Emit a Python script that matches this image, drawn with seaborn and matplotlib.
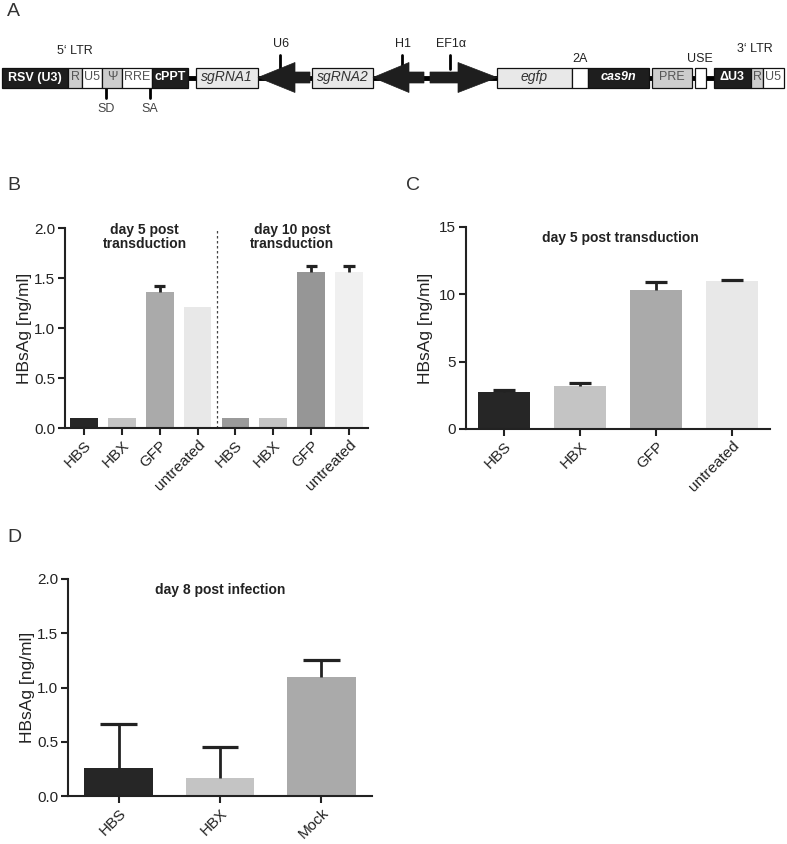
import matplotlib
matplotlib.use("Agg")
import matplotlib.pyplot as plt
from matplotlib.patches import Rectangle, Polygon
import numpy as np
import pandas as pd
import seaborn as sns

sns.set_theme(style="ticks")
plt.rcParams['font.family'] = ['Liberation Sans', 'DejaVu Sans']

W, H = 787, 844
INK = "#222222"

# ---- panel A: vector map (element name, start, end in px along the construct)
a_names = ["RSV (U3)", "R", "U5", "\u03a8", "RRE", "cPPT", "sgRNA1", "sgRNA2",
           "egfp", "", "cas9n", "PRE", "", "\u0394U3", "R", "U5"]
a_starts = [2, 68, 82, 102, 122, 152, 196, 312, 497, 572, 588, 652, 695, 714, 751, 763]
a_ends = [68, 82, 102, 122, 152, 188, 258, 373, 572, 588, 649, 692, 706, 751, 763, 784]
a_kinds = ["dark", "mid", "white", "mid", "white", "dark", "light", "light",
           "light", "white", "dark_it", "mid", "white", "dark", "mid", "white"]
# promoters: name, tail, head base, tip
a_promoters = [("U6", 310, 295, 258), ("H1", 424, 409, 373), ("EF1\u03b1", 430, 458, 497)]
a_promoter_ticks = [280, 402, 450]
a_labels_top = [("5\u2018 LTR", 75, 51), ("2A", 580, 59), ("USE", 700, 59), ("3\u2018 LTR", 755, 49)]
a_labels_bottom = [("SD", 106), ("SA", 150)]

# ---- panel B
b_labels = ["HBS", "HBX", "GFP", "untreated", "HBS", "HBX", "GFP", "untreated"]
b_values = [0.10, 0.10, 1.36, 1.21, 0.10, 0.10, 1.56, 1.56]
b_errors = [0.0, 0.0, 0.06, 0.0, 0.0, 0.0, 0.06, 0.06]
b_colors = ["#262626", "#c4c4c4", "#aaaaaa", "#e8e8e8", "#9a9a9a", "#c4c4c4", "#969696", "#f0f0f0"]
b_groups = ["day 5 post\ntransduction", "day 10 post\ntransduction"]

# ---- panel C
c_labels = ["HBS", "HBX", "GFP", "untreated"]
c_values = [2.78, 3.22, 10.29, 10.96]
c_errors = [0.12, 0.18, 0.59, 0.12]
c_colors = ["#262626", "#c4c4c4", "#aaaaaa", "#e8e8e8"]

# ---- panel D
d_labels = ["HBS", "HBX", "Mock"]
d_values = [0.255, 0.165, 1.095]
d_errors = [0.41, 0.29, 0.155]
d_colors = ["#262626", "#c4c4c4", "#aaaaaa"]

fig = plt.figure(figsize=(W / 100, H / 100), dpi=100)

# full-figure canvas in pixel coordinates for the map and panel letters
ax_a = fig.add_axes([0, 0, 1, 1])
ax_a.set_xlim(0, W)
ax_a.set_ylim(H, 0)
ax_a.axis("off")

yc = 77.5
ax_a.plot([2, 784], [yc, yc], color="black", lw=3.5, solid_capstyle="butt", zorder=1)
fills = {"dark": "#1e1e1e", "dark_it": "#1e1e1e", "mid": "#cdcdcd", "white": "white", "light": "#e8e8e8"}
for name, x0, x1, kind in zip(a_names, a_starts, a_ends, a_kinds):
    ax_a.add_patch(Rectangle((x0, yc - 10), x1 - x0, 20, facecolor=fills[kind],
                             edgecolor="#111111", lw=0.9, zorder=2))
    if not name:
        continue
    if kind.startswith("dark"):
        ax_a.text((x0 + x1) / 2, yc, name, color="white", fontsize=9, fontweight="bold",
                  fontstyle="italic" if kind == "dark_it" else "normal",
                  ha="center", va="center", zorder=3)
    elif kind == "light":
        ax_a.text((x0 + x1) / 2, yc, name, color="#333333", fontsize=10, fontstyle="italic",
                  ha="center", va="center", zorder=3)
    else:
        ax_a.text((x0 + x1) / 2, yc, name, color="#555555", fontsize=9,
                  ha="center", va="center", zorder=3)

for (name, tail, base, tip), tx in zip(a_promoters, a_promoter_ticks):
    pts = [(tail, yc - 5.5), (base, yc - 5.5), (base, yc - 15), (tip, yc),
           (base, yc + 15), (base, yc + 5.5), (tail, yc + 5.5)]
    ax_a.add_patch(Polygon(pts, closed=True, facecolor="#1e1e1e", edgecolor="#1e1e1e", lw=0.5, zorder=2))
    ax_a.plot([tx, tx], [55, yc - 9], color="black", lw=2, zorder=1)
    ax_a.text(tx + 1, 44, name, fontsize=9, color="#222222", ha="center", va="center")

for name, x, y in a_labels_top:
    ax_a.text(x, y, name, fontsize=9, color="#222222", ha="center", va="center")
for name, x in a_labels_bottom:
    ax_a.plot([x, x], [yc + 10, 98], color="black", lw=2, zorder=1)
    ax_a.text(x, 109, name, fontsize=9, color="#444444", ha="center", va="center")

for letter, x, y in [("A", 7, 11), ("B", 7, 185), ("C", 406, 185), ("D", 7, 537)]:
    ax_a.text(x, y, letter, fontsize=14, color="#333333", ha="left", va="center")


def px_axes(left, top, right, bottom):
    return fig.add_axes([left / W, 1 - bottom / H, (right - left) / W, (bottom - top) / H])


def bar_panel(ax, labels, values, errors, colors, width, cap_hw, ymax, yticks, px_w):
    keys = [f"{lab}_{i}" for i, lab in enumerate(labels)]
    df = pd.DataFrame({"key": keys, "value": values})
    sns.barplot(data=df, x="key", y="value", hue="key", palette=colors, width=width,
                saturation=1, linewidth=0, legend=False, ax=ax)
    # upper-only error bars, GraphPad style
    pos = np.arange(len(values))
    err = np.array(errors)
    val = np.array(values)
    m = err > 0
    ax.vlines(pos[m], val[m], val[m] + err[m], color=INK, lw=2, zorder=3)
    ax.hlines(val[m] + err[m], pos[m] - cap_hw, pos[m] + cap_hw, color=INK, lw=2.3, zorder=3)
    ax.set_xlim(-0.5, len(values) - 0.5)
    ax.set_ylim(0, ymax)
    ax.set_yticks(yticks)
    ax.set_xticks(pos)
    ax.set_xticklabels(labels, rotation=45, ha="right", rotation_mode="anchor")
    ax.set_xlabel("")
    ax.set_ylabel("HBsAg [ng/ml]", fontsize=12.5, color=INK)
    ax.yaxis.set_label_coords(-33 / px_w, 0.5)
    sns.despine(ax=ax)
    for s in ["left", "bottom"]:
        ax.spines[s].set_linewidth(1.5)
        ax.spines[s].set_color(INK)
    ax.tick_params(direction="out", length=5, width=1.5, color=INK, labelsize=11,
                   labelcolor=INK, pad=2)
    ax.patch.set_alpha(0)


ax_b = px_axes(65, 228, 368, 428)
bar_panel(ax_b, b_labels, b_values, b_errors, b_colors, 0.73, 0.15, 2.0,
          [0, 0.5, 1.0, 1.5, 2.0], 303)
ax_b.axvline(3.5, color="#444444", lw=0.9, ls=(0, (2, 2)))
for txt, x in zip(b_groups, [1.6, 5.5]):
    ax_b.text(x, 1.91, txt, ha="center", va="center", fontsize=10, fontweight="bold",
              color="#222222", linespacing=1.05)

ax_c = px_axes(466, 227, 770, 429)
bar_panel(ax_c, c_labels, c_values, c_errors, c_colors, 0.69, 0.14, 15,
          [0, 5, 10, 15], 304)
ax_c.text(1.53, 14.2, "day 5 post transduction", ha="center", va="center",
          fontsize=10, fontweight="bold", color="#222222")

ax_d = px_axes(68, 579, 372, 796)
bar_panel(ax_d, d_labels, d_values, d_errors, d_colors, 0.68, 0.18, 2.0,
          [0, 0.5, 1.0, 1.5, 2.0], 304)
ax_d.text(1.0, 1.90, "day 8 post infection", ha="center", va="center",
          fontsize=10, fontweight="bold", color="#222222")

fig.savefig("out.png", dpi=100)
